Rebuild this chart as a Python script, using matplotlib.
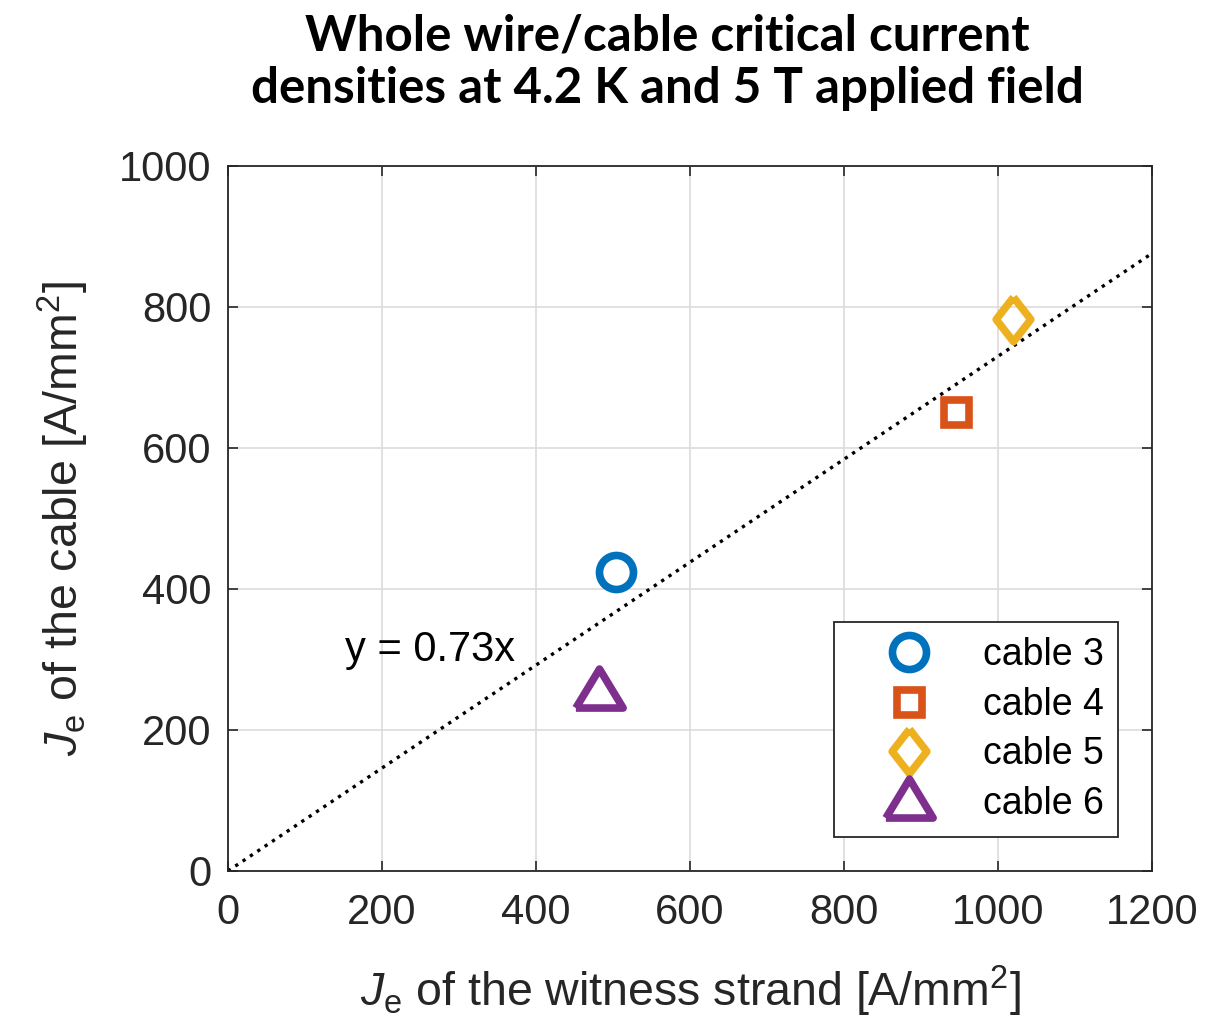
import numpy as np
import matplotlib
matplotlib.use("Agg")
import matplotlib.pyplot as plt

# data
labels = ["cable 3", "cable 4", "cable 5", "cable 6"]
strand_je = [504, 945, 1019, 482]
cable_je = [424, 651, 783, 255]
colors = ["#0072BD", "#D95319", "#EDB120", "#7E2F8E"]
slope = 0.73
fit_x = [0, 1200]

x_ticks = [0, 200, 400, 600, 800, 1000, 1200]
y_ticks = [0, 200, 400, 600, 800, 1000]

plt.rcParams['font.family'] = ['Liberation Sans', 'DejaVu Sans']
plt.rcParams['mathtext.fontset'] = 'custom'
plt.rcParams['mathtext.rm'] = 'Liberation Sans'
plt.rcParams['mathtext.it'] = 'Liberation Sans:italic'

diamond = [(0, 1), (0.78, 0), (0, -1), (-0.78, 0), (0, 1)]
triangle = [(-1, -0.7), (1, -0.7), (0, 0.95), (-1, -0.7)]
markers = [("o", 24.5), ("s", 18), (diamond, 32), (triangle, 34)]

fig = plt.figure(figsize=(12.25, 10.27), dpi=100)
ax = fig.add_axes([0.1861, 0.1519, 0.7543, 0.6865])

ax.plot(fit_x, [slope * v for v in fit_x], color='black', linestyle=':', linewidth=2.4, zorder=2)

for xv, yv, lab, col, (mk, ms) in zip(strand_je, cable_je, labels, colors, markers):
    ax.plot([xv], [yv], linestyle='none', marker=mk, markersize=ms,
            markerfacecolor='none', markeredgecolor=col, markeredgewidth=5.5,
            label=lab, zorder=3)

ax.text(152, 313, "y = 0.73x", fontsize=30, ha='left', va='center', color='black')

ax.set_xlim(0, 1200)
ax.set_ylim(0, 1000)
ax.set_xticks(x_ticks)
ax.set_yticks(y_ticks)
ax.grid(True, color='#dcdcdc', linewidth=1.2)
ax.set_axisbelow(True)
ax.tick_params(direction='in', length=7, width=1.2, colors='#262626', labelsize=30,
               top=True, right=True)
ax.tick_params(axis='x', pad=16)
ax.tick_params(axis='y', pad=12)
for sp in ax.spines.values():
    sp.set_color('#262626')
    sp.set_linewidth(1.3)

ax.set_xlabel(r'$\it{J}_{\rm e}$ of the witness strand [A/mm$^2$]', fontsize=33.5, color='#262626', labelpad=22)
ax.set_ylabel(r'$\it{J}_{\rm e}$ of the cable [A/mm$^2$]', fontsize=33.5, color='#262626', labelpad=20)

leg = ax.legend(loc='lower right', bbox_to_anchor=(0.984, 0.022), fontsize=27,
                frameon=True, fancybox=False, edgecolor='#262626', framealpha=1,
                labelspacing=0.36, handlelength=3.2, handletextpad=0.35, borderpad=0.4)
leg.get_frame().set_linewidth(1.3)

fig.text(0.545, 0.9395, "Whole wire/cable critical current\ndensities at 4.2 K and 5 T applied field",
         ha='center', va='center', fontsize=35.5, fontweight='bold', family=['Lato', 'DejaVu Sans'],
         linespacing=1.2)

fig.savefig("out.png", dpi=100)
